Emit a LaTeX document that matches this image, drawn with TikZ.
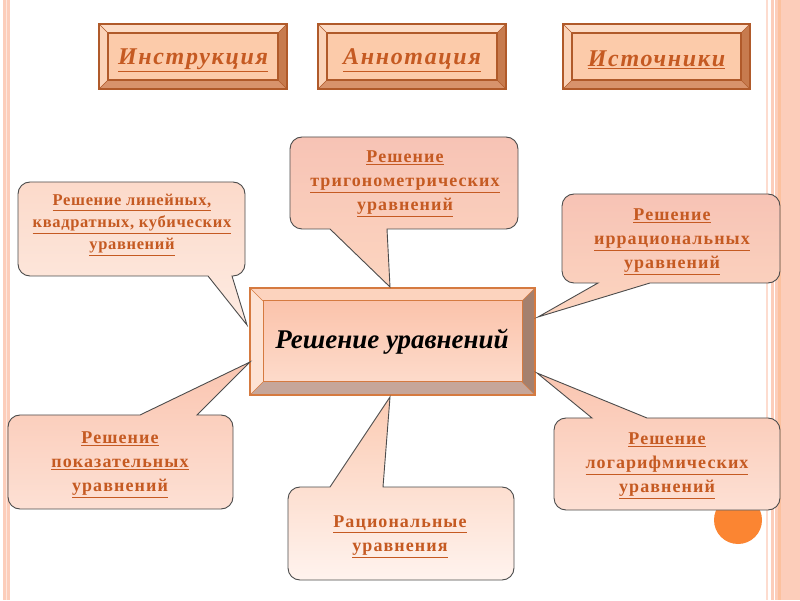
\documentclass[tikz,border=0pt]{standalone}
\usepackage{fontspec}
\setmainfont{Liberation Serif}
\usetikzlibrary{positioning}

\definecolor{txt}{HTML}{C55A22}
\definecolor{frameline}{HTML}{B05A2A}
\definecolor{btnface}{HTML}{FCCBAA}
\definecolor{btntop}{HTML}{FDDCC6}
\definecolor{btnleft}{HTML}{FBD3B8}
\definecolor{btnright}{HTML}{C77B4E}
\definecolor{btnbottom}{HTML}{D8936C}
\definecolor{mainline}{HTML}{D57A40}
\definecolor{mainfacetop}{HTML}{FBC3AB}
\definecolor{mainfacebot}{HTML}{FDDBCB}
\definecolor{maintop}{HTML}{FCD3BE}
\definecolor{mainleft}{HTML}{FDE2D3}
\definecolor{mainright}{HTML}{A4806E}
\definecolor{mainbottom}{HTML}{C6A69A}
\definecolor{bandpink}{HTML}{FCCDBA}
\definecolor{blob}{HTML}{FB8532}
\definecolor{lintop}{HTML}{FCDACA}
\definecolor{linbot}{HTML}{FDEBE2}
\definecolor{pinktop}{HTML}{F7C3B5}
\definecolor{pinkbot}{HTML}{FCD5C0}
\definecolor{exptop}{HTML}{FAC5B0}
\definecolor{expbot}{HTML}{FDE0D4}
\definecolor{rattop}{HTML}{FBCBB3}
\definecolor{ratbot}{HTML}{FFF3EE}

\tikzset{
  bubble/.style={draw=black!70, line width=0.9pt},
  bubtext/.style={text=txt, align=center,
    font=\bfseries\fontsize{18}{24}\selectfont\addfontfeature{LetterSpace=6}},
  btntext/.style={text=txt,
    font=\bfseries\itshape\fontsize{24}{28}\selectfont\addfontfeature{LetterSpace=7}},
  btnline/.style={draw=frameline, line width=1.2pt},
}

% callout with the pointer on the lower edge: style, L, B, R, T, p1, p2, tip
\newcommand\bubbledown[8]{%
  \draw[bubble,#1] (#6,#3) -- (#8) -- (#7,#3) -- ({#4-12},#3)
    arc[start angle=-90,end angle=0,radius=12] -- (#4,{#5-12})
    arc[start angle=0,end angle=90,radius=12] -- ({#2+12},#5)
    arc[start angle=90,end angle=180,radius=12] -- (#2,{#3+12})
    arc[start angle=180,end angle=270,radius=12] -- cycle;}
% callout with the pointer on the upper edge
\newcommand\bubbleup[8]{%
  \draw[bubble,#1] (#7,#5) -- (#8) -- (#6,#5) -- ({#2+12},#5)
    arc[start angle=90,end angle=180,radius=12] -- (#2,{#3+12})
    arc[start angle=180,end angle=270,radius=12] -- ({#4-12},#3)
    arc[start angle=270,end angle=360,radius=12] -- (#4,{#5-12})
    arc[start angle=0,end angle=90,radius=12] -- cycle;}

\begin{document}
\begin{tikzpicture}[x=1pt, y=1pt]
  \useasboundingbox (0,0) rectangle (800,600);
  \fill[white] (0,0) rectangle (800,600);

  % side bands
  \fill[bandpink] (3,0) rectangle (10,600);
  \fill[bandpink!50] (6,0) rectangle (7,600);
  \fill[bandpink!70] (765.5,0) rectangle (768,600);
  \fill[bandpink] (771,0) rectangle (773.5,600);
  \fill[bandpink] (775,0) rectangle (800,600);
  \fill[bandpink!85!orange] (777.5,0) rectangle (780.5,600);

  % top buttons
  \foreach \xa/\xb/\name/\lbl in {99/287/instr/Инструкция, 318/506/annot/Аннотация, 563/750/src/Источники}{
    \fill[btnface] (\xa,511) rectangle (\xb,576);
    \fill[btntop] (\xa,576) -- (\xb,576) -- (\xb-9,567) -- (\xa+9,567) -- cycle;
    \fill[btnleft] (\xa,511) -- (\xa,576) -- (\xa+9,567) -- (\xa+9,520) -- cycle;
    \fill[btnright] (\xb,511) -- (\xb,576) -- (\xb-9,567) -- (\xb-9,520) -- cycle;
    \fill[btnbottom] (\xa,511) -- (\xb,511) -- (\xb-9,520) -- (\xa+9,520) -- cycle;
    \draw[btnline] (\xa,511) rectangle (\xb,576);
    \draw[btnline] (\xa+9,520) rectangle (\xb-9,567);
    \draw[frameline, line width=0.5pt] (\xa,511) -- (\xa+9,520) (\xa,576) -- (\xa+9,567)
      (\xb,576) -- (\xb-9,567) (\xb,511) -- (\xb-9,520);
    \node[btntext] (\name) at ({(\xa+\xb)/2},540) {\underline{\lbl}};
  }

  % central box
  \shade[top color=mainfacetop, bottom color=mainfacebot] (263,218) rectangle (522,299);
  \fill[maintop] (250,312) -- (535,312) -- (522,299) -- (263,299) -- cycle;
  \fill[mainleft] (250,205) -- (250,312) -- (263,299) -- (263,218) -- cycle;
  \fill[mainright] (535,205) -- (535,312) -- (522,299) -- (522,218) -- cycle;
  \fill[mainbottom] (250,205) -- (535,205) -- (522,218) -- (263,218) -- cycle;
  \draw[mainline, line width=1.5pt] (250,205) rectangle (535,312);
  \draw[mainline, line width=1pt] (263,218) rectangle (522,299);
  \draw[mainline, line width=0.5pt] (250,205) -- (263,218) (250,312) -- (263,299)
    (535,312) -- (522,299) (535,205) -- (522,218);
  \node[font=\bfseries\itshape\fontsize{27}{32}\selectfont] (main) at (392,258)
    {Решение уравнений};

  \fill[blob] (738,80) circle (24);

  % callouts
  \bubbledown{top color=lintop, bottom color=linbot}{18}{324}{245}{418}{208}{232}{247,275}
  \node[bubtext, font=\bfseries\fontsize{16.5}{22}\selectfont\addfontfeature{LetterSpace=4}] (lin) at (132,375)
    {\underline{Решение линейных,}\\\underline{квадратных, кубических}\\\underline{уравнений}};

  \bubbledown{top color=pinktop, bottom color=pinkbot}{290}{371}{518}{463}{330}{387}{390,313}
  \node[bubtext] (trig) at (405,416)
    {\underline{Решение}\\\underline{тригонометрических}\\\underline{уравнений}};

  \bubbledown{top color=pinktop, bottom color=pinkbot}{562}{317}{780}{406}{598}{650}{538,283}
  \node[bubtext] (irr) at (672,358)
    {\underline{Решение}\\\underline{иррациональных}\\\underline{уравнений}};

  \bubbleup{top color=exptop, bottom color=expbot}{8}{91}{233}{185}{140}{197}{250,238}
  \node[bubtext] (expo) at (120,135)
    {\underline{Решение}\\\underline{показательных}\\\underline{уравнений}};

  \bubbleup{top color=rattop, bottom color=ratbot}{288}{20}{514}{113}{330}{383}{390,203}
  \node[bubtext] (rat) at (400,63)
    {\underline{Рациональные}\\\underline{уравнения}};

  \bubbleup{top color=exptop, bottom color=expbot}{554}{90}{780}{182}{592}{647}{537,227}
  \node[bubtext] (logn) at (667,134)
    {\underline{Решение}\\\underline{логарифмических}\\\underline{уравнений}};
\end{tikzpicture}
\end{document}
